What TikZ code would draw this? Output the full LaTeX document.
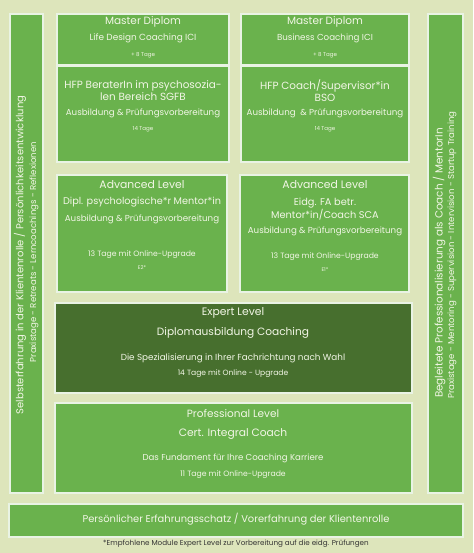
\documentclass[tikz,border=0pt]{standalone}
\usepackage{fontspec}
\setmainfont{Poppins}
\usetikzlibrary{positioning}
\definecolor{bgcol}{HTML}{DDE5BB}
\definecolor{modcol}{HTML}{6AB24D}
\definecolor{expcol}{HTML}{476F2E}
\definecolor{txtcol}{HTML}{F2F6E6}
\tikzset{
  modbox/.style={draw=white!85!modcol, line width=1.2pt, fill=modcol, anchor=north west, inner sep=0pt, outer sep=0pt},
  txt/.style={text=txtcol, inner sep=0pt, align=center},
  big/.style={txt, font=\fontsize{10.5}{12}\selectfont},
  mid/.style={txt, font=\fontsize{8.7}{10}\selectfont},
  small/.style={txt, font=\fontsize{5.5}{7}\selectfont},
  tage/.style={txt, font=\fontsize{7.7}{9}\selectfont},
}
\begin{document}
\begin{tikzpicture}[x=1pt,y=-1pt]
  \fill[bgcol] (0,0) rectangle (473,553);
  \useasboundingbox (0,0) rectangle (473,553);
  % side bars
  \node[modbox, minimum width=33pt, minimum height=479pt] (leftbar) at (10,14) {};
  \node[modbox, minimum width=35pt, minimum height=479pt] (rightbar) at (428,14) {};
  % top modules
  \node[modbox, minimum width=172pt, minimum height=51pt] (masterL) at (57,14) {};
  \node[modbox, minimum width=172pt, minimum height=96pt] (hfpL) at (57,66) {};
  \node[modbox, minimum width=168pt, minimum height=51pt] (masterR) at (241,14) {};
  \node[modbox, minimum width=168pt, minimum height=96pt] (hfpR) at (241,66) {};
  \node[modbox, minimum width=170pt, minimum height=117pt] (advL) at (57,175) {};
  \node[modbox, minimum width=169pt, minimum height=117pt] (advR) at (240,175) {};
  \node[modbox, fill=expcol, minimum width=357pt, minimum height=90pt] (expert) at (55,303) {};
  \node[modbox, minimum width=357pt, minimum height=90pt] (prof) at (55,403) {};
  \node[modbox, minimum width=454pt, minimum height=33pt] (base) at (9,504) {};
  % texts
  \node[big] (masterL1) at (143,22) {Master Diplom};
  \node[mid, font=\fontsize{8.9}{10}\selectfont] (masterL2) at (143,38) {Life Design Coaching ICI};
  \node[small] (masterL3) at (143,55) {+ 8 Tage};
  \node[big] (masterR1) at (325,22) {Master Diplom};
  \node[mid, font=\fontsize{8.7}{10}\selectfont] (masterR2) at (325,38) {Business Coaching ICI};
  \node[small] (masterR3) at (325,55) {+ 8 Tage};
  \node[big, font=\fontsize{10.4}{12}\selectfont] (hfpL1) at (143,91) {HFP BeraterIn im psychosozia-\\len Bereich SGFB};
  \node[mid] (hfpL2) at (143,113) {Ausbildung \& Prüfungsvorbereitung};
  \node[small] (hfpL3) at (143,129) {14 Tage};
  \node[big, font=\fontsize{10.4}{12}\selectfont] (hfpR1) at (325,91) {HFP Coach/Supervisor*in\\BSO};
  \node[mid] (hfpR2) at (325,113) {Ausbildung\ \ \& Prüfungsvorbereitung};
  \node[small] (hfpR3) at (325,129) {14 Tage};
  \node[big, font=\fontsize{10.8}{12}\selectfont] (advL1) at (142,185) {Advanced Level};
  \node[mid, font=\fontsize{9.7}{11}\selectfont] (advL2) at (142,202) {Dipl. psychologische*r Mentor*in};
  \node[mid] (advL3) at (142,219) {Ausbildung \& Prüfungsvorbereitung};
  \node[tage] (advL4) at (142,255) {13 Tage mit Online-Upgrade};
  \node[small, font=\fontsize{5.2}{6}\selectfont] (advL5) at (142,268) {E2*};
  \node[big, font=\fontsize{10.8}{12}\selectfont] (advR1) at (325,185) {Advanced Level};
  \node[mid, font=\fontsize{9.8}{11.5}\selectfont] (advR2) at (325,209) {Eidg. FA betr.\\Mentor*in/Coach SCA};
  \node[mid] (advR3) at (325,231) {Ausbildung \& Prüfungsvorbereitung};
  \node[tage] (advR4) at (325,257) {13 Tage mit Online-Upgrade};
  \node[small, font=\fontsize{5.2}{6}\selectfont] (advR5) at (325,270) {E1*};
  \node[big, font=\fontsize{10.8}{12}\selectfont] (expert1) at (233,313) {Expert Level};
  \node[big, font=\fontsize{10.6}{12}\selectfont] (expert2) at (233,333) {Diplomausbildung Coaching};
  \node[mid, font=\fontsize{8.8}{10}\selectfont] (expert3) at (233,358) {Die Spezialisierung in Ihrer Fachrichtung nach Wahl};
  \node[tage, font=\fontsize{7.6}{9}\selectfont] (expert4) at (233,374) {14 Tage mit Online - Upgrade};
  \node[big] (prof1) at (233,414) {Professional Level};
  \node[big, font=\fontsize{10.7}{12}\selectfont] (prof2) at (233,434) {Cert. Integral Coach};
  \node[mid, font=\fontsize{8.6}{10}\selectfont] (prof3) at (233,458) {Das Fundament für Ihre Coaching Karriere};
  \node[tage] (prof4) at (233,475) {11 Tage mit Online-Upgrade};
  \node[big, font=\fontsize{9.9}{12}\selectfont] (base1) at (236,519) {Persönlicher Erfahrungsschatz / Vorerfahrung der Klientenrolle};
  \node[small, text=black!80, font=\fontsize{7.2}{8}\selectfont] (note) at (236,544) {*Empfohlene Module Expert Level zur Vorbereitung auf die eidg. Prüfungen};
  \node[big, rotate=90, font=\fontsize{10}{11}\selectfont] (leftbar1) at (20,255) {Selbsterfahrung in der Klientenrolle / Persönlichkeitsentwicklung};
  \node[small, rotate=90, font=\fontsize{8.6}{10}\selectfont] (leftbar2) at (34,252) {Praxistage - Retreats - Lerncoachings - Reflexionen};
  \node[big, rotate=90, font=\fontsize{10.4}{11}\selectfont] (rightbar1) at (439,263) {Begleitete Professionalisierung als Coach / MentorIn};
  \node[small, rotate=90, font=\fontsize{8.6}{10}\selectfont] (rightbar2) at (452,255) {Praxistage - Mentoring - Supervision - Intervision - Startup Training};
\end{tikzpicture}
\end{document}
